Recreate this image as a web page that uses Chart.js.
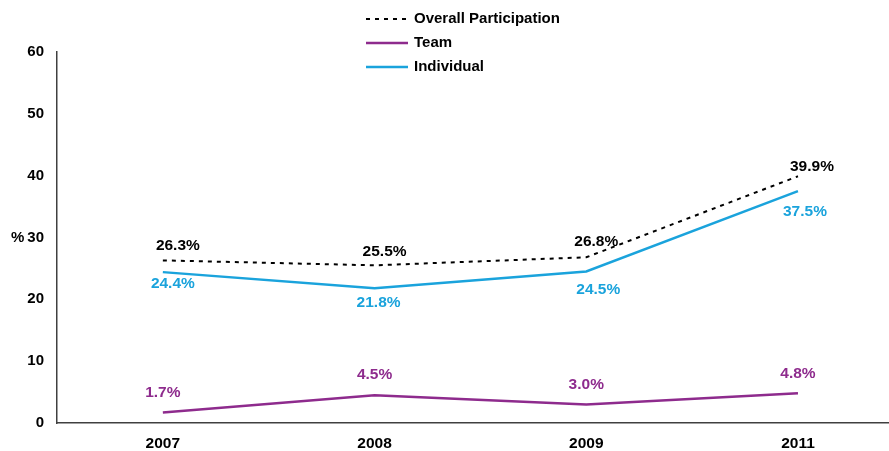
<!DOCTYPE html>
<html><head><meta charset="utf-8">
<script src="https://cdn.jsdelivr.net/npm/chart.js@4"></script>
<style>html,body{margin:0;padding:0;background:#fff;overflow:hidden}#wrap{width:889px;height:451px;position:relative}</style>
</head><body><div id="wrap"><canvas id="c"></canvas></div>
<script>
const categories = ['2007', '2008', '2009', '2011'];
const overall = [26.3, 25.5, 26.8, 39.9];
const team = [1.7, 4.5, 3.0, 4.8];
const individual = [24.4, 21.8, 24.5, 37.5];
const yTicks = [0, 10, 20, 30, 40, 50, 60];
const seriesNames = ['Overall Participation', 'Team', 'Individual'];

const BLACK = '#000000', PURPLE = '#8E2B8D', BLUE = '#1AA3DC';
const FONT = '"Liberation Sans", Arial, sans-serif';

function pts(arr){ return arr.map((v,i)=>({x:i, y:v})); }

const labelPlugin = {
  id: 'pointLabels',
  afterDatasetsDraw(chart){
    const ctx = chart.ctx;
    ctx.save();
    ctx.font = 'bold 15.5px ' + FONT;
    ctx.textAlign = 'center';
    ctx.textBaseline = 'middle';
    chart.data.datasets.forEach((ds, di) => {
      const meta = chart.getDatasetMeta(di);
      ctx.fillStyle = ds.labelColor;
      meta.data.forEach((el, i) => {
        const off = ds.labelOffsets[i];
        ctx.fillText(ds.data[i].y.toFixed(1) + '%', el.x + off[0], el.y + off[1]);
      });
    });
    ctx.restore();
  }
};

const extrasPlugin = {
  id: 'extras',
  afterDraw(chart){
    const ctx = chart.ctx;
    ctx.save();
    ctx.textBaseline = 'middle';
    ctx.textAlign = 'left';
    ctx.fillStyle = '#000';
    ctx.font = 'bold 15px ' + FONT;
    const yS = chart.scales.y;
    ctx.fillText('%', 11, yS.getPixelForValue(30));
    const rows = [19, 43, 67];
    chart.data.datasets.forEach((ds, di) => {
      const y = rows[di];
      ctx.beginPath();
      ctx.strokeStyle = ds.borderColor;
      ctx.lineWidth = ds.borderWidth;
      ctx.setLineDash(ds.borderDash || []);
      ctx.moveTo(366, y); ctx.lineTo(408, y);
      ctx.stroke();
      ctx.setLineDash([]);
      ctx.fillStyle = '#000';
      ctx.fillText(ds.label, 414, y);
    });
    ctx.restore();
  }
};

new Chart(document.getElementById('c'), {
  type: 'line',
  data: {
    datasets: [
      { label: seriesNames[0], data: pts(overall), borderColor: BLACK, borderWidth: 2, borderDash: [4,5],
        labelColor: '#000', labelOffsets: [[15,-15],[10,-14],[10,-16],[14,-10]] },
      { label: seriesNames[1], data: pts(team), borderColor: PURPLE, borderWidth: 2.5,
        labelColor: PURPLE, labelOffsets: [[0,-20],[0,-20],[0,-20],[0,-20]] },
      { label: seriesNames[2], data: pts(individual), borderColor: BLUE, borderWidth: 2.5,
        labelColor: BLUE, labelOffsets: [[10,12],[4,15],[12,18],[7,21]] }
    ]
  },
  options: {
    responsive: true,
    maintainAspectRatio: false,
    animation: false,
    devicePixelRatio: 1,
    layout: { padding: { top: 52, left: 0, right: 0, bottom: 0 } },
    elements: { point: { radius: 0, hoverRadius: 0 }, line: { tension: 0, fill: false } },
    plugins: { legend: { display: false }, tooltip: { enabled: false } },
    scales: {
      x: {
        type: 'linear', min: -0.5, max: 3.43,
        afterBuildTicks(s){ s.ticks = categories.map((c,i)=>({value:i})); },
        afterFit(s){ s.height = 28; },
        grid: { display: false, drawTicks: false },
        border: { display: true, color: '#404040', width: 1.5 },
        ticks: { padding: 11, color: '#000', font: { family: FONT, size: 15.5, weight: 'bold' },
          maxRotation: 0, autoSkip: false,
          callback: (v) => categories[v] }
      },
      y: {
        min: 0, max: 60,
        afterBuildTicks(s){ s.ticks = yTicks.map(v=>({value:v})); },
        afterFit(s){ s.width = 57; },
        grid: { display: false, drawTicks: false },
        border: { display: true, color: '#404040', width: 1.5 },
        ticks: { padding: 13, color: '#000', font: { family: FONT, size: 15, weight: 'bold' } }
      }
    }
  },
  plugins: [labelPlugin, extrasPlugin]
});
</script></body></html>
